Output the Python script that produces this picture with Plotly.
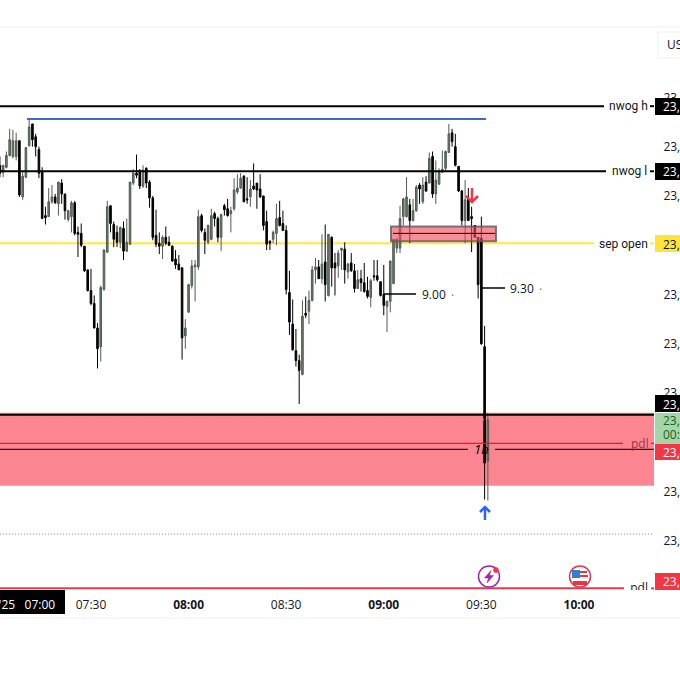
import numpy as np
import pandas as pd
import plotly.graph_objects as go

# 1 min candles (prices minus 23000)
base_price = 23000
opens = [781,774,779,791,790,790,806,749,769,801,
         823,810,797,774,730,729,744,749,742,763,
         752,726,729,743,713,712,699,675,654,641,
         616,597,655,693,740,721,713,703,717,694,
         701,763,773,776,760,778,764,748,710,702,
         699,708,703,699,686,681,677,608,632,659,
         678,678,730,713,703,706,732,727,708,740,
         737,732,737,754,758,770,747,749,760,763,
         757,750,724,704,706,712,728,722,715,652,
         620,593,583,569,631,633,644,675,678,666,
         683,649,708,682,679,695,696,673,682,674,
         656,666,662,654,647,669,669,663,650,638,
         643,661,697,697,729,729,741,725,735,761,
         744,764,763,790,752,762,774,778,794,814,
         800,780,755,725,747,729,720,708,707,597,
         481]
highs = [790,781,795,818,817,814,806,776,799,828,
         823,813,800,779,739,758,761,752,764,767,
         752,736,745,745,719,722,699,675,676,649,
         621,659,696,745,740,724,720,719,724,727,
         764,777,792,777,781,779,766,750,736,713,
         710,719,709,700,695,690,678,625,661,685,
         685,736,732,717,721,737,734,729,732,742,
         747,739,768,772,773,771,769,766,783,763,
         772,750,735,705,715,742,745,735,720,674,
         645,615,589,644,648,654,679,687,685,711,
         721,711,709,692,695,697,703,682,692,681,
         675,675,682,668,666,685,685,663,680,644,
         684,706,707,740,748,769,747,747,761,763,
         769,770,794,795,786,778,796,796,823,818,
         813,780,756,766,758,739,720,708,729,618,
         530]
lows = [769,769,778,790,788,786,749,746,768,800,
        800,790,768,727,721,729,742,742,730,742,
        726,724,713,710,688,698,673,653,639,616,
        575,582,654,692,713,698,698,697,685,693,
        700,761,768,757,758,758,738,705,698,691,
        686,700,699,683,676,675,584,595,632,656,
        643,675,713,691,701,705,719,703,694,730,
        729,713,735,752,757,744,742,739,756,737,
        748,715,695,695,702,700,719,715,650,609,
        593,577,539,568,626,620,643,661,666,661,
        643,648,658,649,667,675,661,666,673,652,
        656,653,652,646,637,664,663,648,629,612,
        632,661,692,692,720,728,702,724,734,742,
        742,754,763,748,742,761,774,776,794,800,
        780,754,720,702,725,693,708,646,599,442,
        441]
closes = [773,781,791,807,806,806,751,770,799,820,
          807,800,773,727,728,744,749,743,764,752,
          735,735,743,712,711,700,674,654,641,616,
          595,657,695,739,722,706,703,718,694,703,
          764,773,771,760,776,763,748,708,701,699,
          708,702,700,684,680,675,606,616,660,679,
          680,729,715,705,720,730,727,708,731,736,
          730,735,756,758,768,744,746,757,757,756,
          749,720,701,702,713,727,720,715,655,622,
          594,583,573,628,629,644,675,678,666,681,
          660,711,677,677,692,697,675,681,674,656,
          665,662,653,648,664,668,665,649,639,643,
          684,706,706,727,747,749,725,735,759,757,
          761,755,788,752,766,775,777,795,813,805,
          781,755,725,746,725,727,708,660,600,479,
          523]
times = pd.date_range("2025-09-05 07:02", periods=len(opens), freq="min")

# levels
nwog_h = 23841
nwog_l = 23775
sep_open = 23702
blue_level = 23828
zone_top, zone_bottom = 23530, 23456
zone_line = 23528
zone_dots = 23523
pdl_near = 23499
h1_level = 23493
dots_low = 23407
pdl_far = 23352
box_top, box_bottom, box_mid = 23719, 23704, 23712

price_ticks = list(range(23400, 23851, 50))
time_ticks = ["2025-09-05 07:30", "2025-09-05 08:00", "2025-09-05 08:30",
              "2025-09-05 09:00", "2025-09-05 09:30", "2025-09-05 10:00"]
time_labels = ["07:30", "<b>08:00</b>", "08:30", "<b>09:00</b>", "09:30", "<b>10:00</b>"]

FONT = "Open Sans"
LINE_FONT = "Roboto"
INK = "#131722"
RED = "#f23645"
PLOT_W, PLOT_H, PLOT_T = 654, 562, 28


def xp(px):
    return px / PLOT_W


def yp(py):
    return (PLOT_T + PLOT_H - py) / PLOT_H


def hline(price, x0, x1, color, width=2, dash="solid", layer="above"):
    return dict(type="line", xref="paper", yref="y", x0=xp(x0), x1=xp(x1), y0=price, y1=price,
                line=dict(color=color, width=width, dash=dash), layer=layer)


def pxrect(x0, y0, x1, y1, fill, line=None, lw=0):
    return dict(type="rect", xref="paper", yref="paper", x0=xp(x0), x1=xp(x1), y0=yp(y0), y1=yp(y1),
                fillcolor=fill, line=dict(color=line or fill, width=lw), layer="above")


def circle(cx, cy, r, fill, line, lw=1.5):
    return dict(type="circle", xref="paper", yref="paper", x0=xp(cx - r), x1=xp(cx + r),
                y0=yp(cy + r), y1=yp(cy - r), fillcolor=fill, line=dict(color=line, width=lw), layer="above")


def pxpath(points, color, fill=None, width=2.5, closed=False):
    d = "M" + " L".join(f"{xp(x):.5f},{yp(y):.5f}" for x, y in points) + (" Z" if closed else "")
    return dict(type="path", xref="paper", yref="paper", path=d, layer="above",
                fillcolor=fill or "rgba(0,0,0,0)", line=dict(color=color, width=width))


def label(px, py, text, color=INK, anchor="left", size=12, family=FONT):
    return dict(xref="paper", yref="paper", x=xp(px), y=yp(py), text=text, showarrow=False,
                xanchor=anchor, yanchor="middle", font=dict(family=family, size=size, color=color),
                borderpad=0)


fig = go.Figure()
fig.add_trace(go.Candlestick(
    x=times,
    open=np.array(opens) + base_price,
    high=np.array(highs) + base_price,
    low=np.array(lows) + base_price,
    close=np.array(closes) + base_price,
    increasing=dict(line=dict(color="#4f5c50", width=1), fillcolor="#6d7b6e"),
    decreasing=dict(line=dict(color="#000000", width=1), fillcolor="#000000"),
    showlegend=False,
))
# this pdl is cut by the bottom of the pane, so it stays a clipped trace
fig.add_trace(go.Scatter(
    x=["2025-09-05 10:18:30"], y=[pdl_far - 1], mode="text", text=["pdl"],
    textfont=dict(family=FONT, size=12, color=INK), cliponaxis=True, showlegend=False,
))

shapes = [
    dict(type="rect", xref="paper", yref="y", x0=0, x1=1, y0=zone_bottom, y1=zone_top,
         fillcolor="#fb8590", line=dict(width=0), layer="below"),
    hline(sep_open, 0, 594, "#ffeb3b", 2, layer="below"),
    hline(sep_open, 650, 654, "#ffeb3b", 2),
    hline(nwog_h, 0, 604, "#000000"),
    hline(nwog_h, 650, 654, "#000000"),
    hline(nwog_l, 0, 606, "#000000"),
    hline(nwog_l, 650, 654, "#000000"),
    dict(type="line", xref="x", yref="y", x0="2025-09-05 07:10:20", x1="2025-09-05 09:31:25",
         y0=blue_level, y1=blue_level, line=dict(color="#3f68c8", width=2), layer="above"),
    dict(type="rect", xref="paper", yref="y", x0=xp(391), x1=xp(496), y0=box_bottom, y1=box_top,
         fillcolor="rgba(245,70,90,0.62)", line=dict(color="rgba(90,90,90,0.8)", width=2), layer="above"),
    hline(box_mid, 393, 495, "#000000", 1),
    hline(zone_line, 0, 654, "#000000", 2),
    hline(zone_dots, 0, 654, "#d9a0a5", 1, "1px,2px"),
    hline(pdl_near, 0, 623, "#e8182e", 1.3),
    hline(pdl_near, 651, 654, "#e8182e", 1.3),
    hline(h1_level, 0, 468, "#000000", 1),
    hline(h1_level, 495, 654, "#000000", 1),
    hline(dots_low, 0, 654, "#8a8a8a", 1, "1px,2px"),
    hline(pdl_far, 0, 624, "#e23a52", 2),
    hline(pdl_far, 651, 654, "#e23a52", 2),
    # 9.00 / 9.30 session marks
    dict(type="line", xref="paper", yref="paper", x0=xp(384), x1=xp(416), y0=yp(294), y1=yp(294),
         line=dict(color="#000000", width=1.5), layer="above"),
    dict(type="line", xref="paper", yref="paper", x0=xp(482), x1=xp(505), y0=yp(288), y1=yp(288),
         line=dict(color="#000000", width=1.5), layer="above"),
    # arrows
    pxpath([(472, 188), (472, 202)], RED),
    pxpath([(466, 196), (472, 202), (478, 196)], RED),
    pxpath([(485, 520), (485, 507)], "#2962ff"),
    pxpath([(480, 512), (485, 507), (490, 512)], "#2962ff"),
    # pane borders
    dict(type="line", xref="paper", yref="paper", x0=0, x1=1.04, y0=yp(27), y1=yp(27),
         line=dict(color="#eeeeee", width=1), layer="above"),
    dict(type="line", xref="paper", yref="paper", x0=0, x1=1.04, y0=yp(618), y1=yp(618),
         line=dict(color="#eeeeee", width=1), layer="above"),
    # price boxes
    pxrect(655, 98, 682, 115, "#000000"),
    pxrect(655, 163, 682, 180, "#000000"),
    pxrect(655, 235, 682, 252, "#ffe53b"),
    pxrect(655, 395, 682, 412, "#000000"),
    pxrect(655, 413, 682, 444, "#a5d6a7"),
    pxrect(655, 444, 682, 460, RED),
    pxrect(655, 573, 682, 590, RED),
    # US button
    dict(type="rect", xref="paper", yref="paper", x0=xp(658), x1=xp(690), y0=yp(32), y1=yp(58),
         fillcolor="#ffffff", line=dict(color="#eeeeee", width=1), layer="above"),
    # time box
    pxrect(-6, 590, 65, 614, "#000000"),
    # calendar icons
    circle(489, 576.5, 10.5, "#ffffff", "#9c27b0"),
    pxpath([(491, 570.5), (484.5, 578), (488.5, 578), (487, 583), (493.5, 575.5), (489.5, 575.5)],
           "#9c27b0", "#9c27b0", 0.5, True),
    circle(496, 570, 2.6, RED, RED, 0.5),
    circle(580, 576.5, 10.5, "#ffffff", "#e5354a"),
    pxrect(572, 570, 580, 578, "#2f7fd6"),
    pxrect(580, 571, 587, 573, "#e5354a"),
    pxrect(580, 575, 588, 577, "#e5354a"),
    pxrect(573, 581, 587, 585, "#e5354a"),
]

annotations = [
    label(608, 106, "nwog h", family=LINE_FONT),
    label(611, 171, "nwog l", family=LINE_FONT),
    label(598, 244, "sep open", family=LINE_FONT),
    label(630, 443, "pdl", "#a5303f"),
    label(481, 449, "<i>1h</i>", "#000000", "center", 13),
    label(421, 294, "9.00"),
    label(450, 295, "·", "#777777"),
    label(509, 288, "9.30"),
    label(538, 289, "·", "#777777"),
    label(666, 45, "US"),
    label(662, 106, "23,841", "#ffffff"),
    label(662, 171, "23,775", "#ffffff"),
    label(662, 244, "23,702"),
    label(662, 404, "23,540", "#ffffff"),
    label(662, 420, "23,523", "#1b5e20"),
    label(662, 434, "00:21", "#1b5e20"),
    label(662, 452, "23,499", "#ffffff"),
    label(662, 581, "23,352", "#ffffff"),
    label(56, 604, "Fri 05 Sep '25   07:00", "#ffffff", "right"),
]

fig.update_layout(
    width=680, height=680,
    margin=dict(l=0, r=26, t=PLOT_T, b=680 - PLOT_T - PLOT_H, pad=0, autoexpand=False),
    paper_bgcolor="#ffffff", plot_bgcolor="#ffffff",
    font=dict(family=FONT, size=12, color=INK),
    shapes=shapes, annotations=annotations, dragmode=False, showlegend=False,
    xaxis=dict(
        automargin=False,
        range=["2025-09-05 07:02:02", "2025-09-05 10:23:04"],
        rangeslider=dict(visible=False),
        tickmode="array", tickvals=time_ticks, ticktext=time_labels,
        ticks="outside", ticklen=4, tickcolor="rgba(0,0,0,0)",
        showgrid=False, zeroline=False, showline=False,
        tickfont=dict(family=FONT, size=12, color=INK), tickangle=0,
    ),
    yaxis=dict(
        automargin=False,
        range=[23350.3, 23920.3], side="right",
        tickmode="array", tickvals=price_ticks,
        ticktext=[f"{v:,}" for v in price_ticks],
        ticks="outside", ticklen=6, tickcolor="rgba(0,0,0,0)",
        showgrid=False, zeroline=False, showline=False,
        tickfont=dict(family=FONT, size=12, color=INK),
    ),
)

fig.write_html("out.html", config=dict(displayModeBar=False),
               post_script="document.body.style.margin='0';")
